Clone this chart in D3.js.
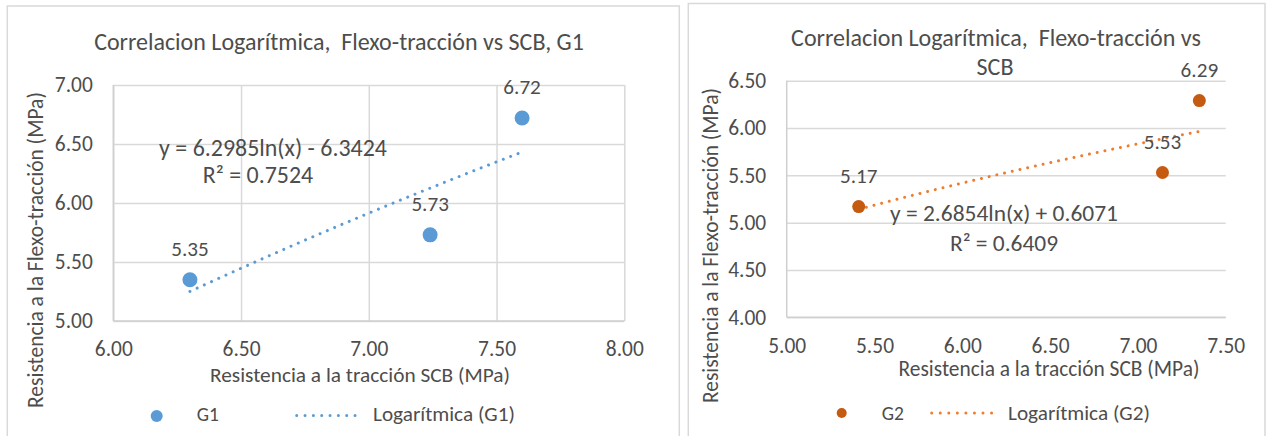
<!DOCTYPE html>
<html>
<head>
<meta charset="utf-8">
<script src="https://cdn.jsdelivr.net/npm/d3@7"></script>
<style>
  html, body { margin: 0; padding: 0; background: #fff; }
  svg { display: block; }
  text { font-family: Carlito, Lato, "Open Sans", sans-serif; fill: #4D4D4D; white-space: pre; }
</style>
</head>
<body>
<svg id="chart" width="1268" height="436"></svg>
<script>
// ---------- DATA ----------
const g1X = [6.30, 7.24, 7.60];
const g1Y = [5.35, 5.73, 6.72];
const g2X = [5.41, 7.14, 7.35];
const g2Y = [5.17, 5.53, 6.29];
const g1TrendCoef = [6.2985, -6.3424];   // y = a ln(x) + b
const g2TrendCoef = [2.6854, 0.6071];
const g1XTicks = [6.0, 6.5, 7.0, 7.5, 8.0];
const g1YTicks = [5.0, 5.5, 6.0, 6.5, 7.0];
const g2XTicks = [5.0, 5.5, 6.0, 6.5, 7.0, 7.5];
const g2YTicks = [4.0, 4.5, 5.0, 5.5, 6.0, 6.5];
const g1Title = ["Correlacion Logarítmica,  Flexo-tracción vs SCB, G1"];
const g2Title = ["Correlacion Logarítmica,  Flexo-tracción vs", "SCB"];
const g1Equation = ["y = 6.2985ln(x) - 6.3424", "R² = 0.7524"];
const g2Equation = ["y = 2.6854ln(x) + 0.6071", "R² = 0.6409"];
const xAxisTitle = "Resistencia a la tracción SCB (MPa)";
const yAxisTitle = "Resistencia a la Flexo-tracción (MPa)";
const g1Legend = ["G1", "Logarítmica (G1)"];
const g2Legend = ["G2", "Logarítmica (G2)"];

const svg = d3.select("#chart");
svg.append("rect").attr("width", 1268).attr("height", 436).attr("fill", "#fff");
const fmt = d3.format(".2f");
const FONT = "Carlito, Lato, 'Open Sans', sans-serif";
const TEXT = "#4D4D4D";

function fit(sel, width) {
  const node = sel.node();
  const fs = parseFloat(sel.attr("font-size"));
  const len = node.getComputedTextLength();
  const nfs = fs * width / len;
  sel.attr("font-size", nfs);
  return nfs;
}
function fitAll(sel, width) {
  let maxLen = 0;
  sel.each(function () { maxLen = Math.max(maxLen, this.getComputedTextLength()); });
  const fs = parseFloat(sel.attr("font-size"));
  sel.attr("font-size", fs * width / maxLen);
}

function drawChart(c) {
  const g = svg.append("g");
  g.append("rect").attr("x", c.frame.x).attr("y", c.frame.y)
    .attr("width", c.frame.w).attr("height", 460)
    .attr("fill", "#fff").attr("stroke", "#D9D9D9").attr("stroke-width", 1.5);

  const x = d3.scaleLinear().domain(d3.extent(c.xTicks)).range([c.plot.l, c.plot.r]);
  const y = d3.scaleLinear().domain(d3.extent(c.yTicks)).range([c.plot.b, c.plot.t]);
  const W = c.plot.r - c.plot.l, H = c.plot.b - c.plot.t;

  const gy = g.append("g").attr("transform", `translate(${c.plot.l},0)`)
    .call(d3.axisLeft(y).tickValues(c.yTicks).tickSize(-W).tickFormat(""));
  gy.select(".domain").remove();
  gy.selectAll("line").attr("stroke", "#D9D9D9").attr("stroke-width", 1.5);

  if (c.vGrid) {
    const gx = g.append("g").attr("transform", `translate(0,${c.plot.b})`)
      .call(d3.axisBottom(x).tickValues(c.xTicks).tickSize(-H).tickFormat(""));
    gx.select(".domain").remove();
    gx.selectAll("line").attr("stroke", "#D9D9D9").attr("stroke-width", 1.5);
  }
  g.append("line").attr("x1", c.plot.l).attr("x2", c.plot.l).attr("y1", c.plot.t).attr("y2", c.plot.b)
    .attr("stroke", "#CFCFCF").attr("stroke-width", 1.5);
  g.append("line").attr("x1", c.plot.l).attr("x2", c.plot.r).attr("y1", c.plot.b).attr("y2", c.plot.b)
    .attr("stroke", "#CFCFCF").attr("stroke-width", 1.5);

  const yl = g.append("g").attr("transform", `translate(${c.plot.l},0)`)
    .call(d3.axisLeft(y).tickValues(c.yTicks).tickSize(0).tickPadding(20.5).tickFormat(fmt));
  yl.select(".domain").remove();
  yl.selectAll("text").attr("font-size", 19).attr("fill", TEXT).style("font-family", FONT);
  fitAll(yl.selectAll("text"), 38);
  const xl = g.append("g").attr("transform", `translate(0,${c.plot.b})`)
    .call(d3.axisBottom(x).tickValues(c.xTicks).tickSize(0).tickPadding(20).tickFormat(fmt));
  xl.select(".domain").remove();
  xl.selectAll("text").attr("font-size", 19).attr("fill", TEXT).style("font-family", FONT);
  fitAll(xl.selectAll("text"), 38);

  let tfs = null;
  c.title.forEach((t, i) => {
    const tt = g.append("text").attr("x", c.titlePos.cx[i]).attr("y", c.titlePos.base[i])
      .attr("text-anchor", "middle").attr("font-size", 22).text(t);
    if (i === 0) tfs = fit(tt, c.titlePos.w); else tt.attr("font-size", tfs);
  });

  const xt = g.append("text").attr("x", c.xTitle.cx).attr("y", c.xTitle.base)
    .attr("text-anchor", "middle").attr("font-size", 19).text(xAxisTitle);
  fit(xt, c.xTitle.w);
  const yt = g.append("text").attr("transform", `translate(${c.yTitle.x},${c.yTitle.cy}) rotate(-90)`)
    .attr("text-anchor", "middle").attr("font-size", 19).text(yAxisTitle);
  fit(yt, c.yTitle.w);

  const [a, b] = c.coef;
  const xs = d3.range(0, 61).map(i => c.xs[0] + (c.xs[c.xs.length - 1] - c.xs[0]) * i / 60);
  g.append("path")
    .attr("d", d3.line().x(d => x(d)).y(d => y(a * Math.log(d) + b))(xs))
    .attr("fill", "none").attr("stroke", c.trendColor).attr("stroke-width", 3)
    .attr("stroke-linecap", "round").attr("stroke-dasharray", "0.01 7.9");

  const pts = c.xs.map((v, i) => ({ x: v, y: c.ys[i] }));
  g.selectAll("circle.pt").data(pts).join("circle").attr("class", "pt")
    .attr("cx", d => x(d.x)).attr("cy", d => y(d.y)).attr("r", c.r).attr("fill", c.color);

  const dl = g.selectAll("text.dl").data(pts).join("text").attr("class", "dl")
    .attr("x", d => x(d.x)).attr("y", d => y(d.y) - 24)
    .attr("text-anchor", "middle").attr("font-size", 19).text(d => fmt(d.y));
  fitAll(dl, 37.5);

  let efs = null;
  c.eq.forEach((t, i) => {
    const et = g.append("text").attr("x", c.eqPos.cx[i]).attr("y", c.eqPos.base[i])
      .attr("text-anchor", "middle").attr("font-size", 19).text(t);
    if (i === 0) efs = fit(et, c.eqPos.w); else et.attr("font-size", efs);
  });

  const L = c.legend;
  g.append("circle").attr("cx", L.mx).attr("cy", L.my).attr("r", L.mr).attr("fill", c.color);
  g.append("text").attr("x", L.t1x).attr("y", L.base).attr("font-size", 19.5).text(c.legendText[0]);
  g.append("line").attr("x1", L.lx[0]).attr("x2", L.lx[1]).attr("y1", L.ly).attr("y2", L.ly)
    .attr("stroke", c.trendColor).attr("stroke-width", 3).attr("stroke-linecap", "round")
    .attr("stroke-dasharray", `0.01 ${(L.lx[1] - L.lx[0]) / 8}`);
  const lt = g.append("text").attr("x", L.t2x).attr("y", L.base).attr("font-size", 19).text(c.legendText[1]);
  fit(lt, L.t2w);
}

drawChart({
  frame: { x: 7.3, y: 6, w: 672 },
  plot: { l: 113.3, r: 624.3, t: 85, b: 321 },
  xTicks: g1XTicks, yTicks: g1YTicks, vGrid: true,
  title: g1Title, titlePos: { cx: [339], base: [50], w: 490 },
  xTitle: { cx: 360, base: 382, w: 300 },
  yTitle: { x: 43, cy: 250, w: 316 },
  xs: g1X, ys: g1Y, coef: g1TrendCoef,
  color: "#5B9BD5", trendColor: "#5B9BD5", r: 7.5,
  eq: g1Equation, eqPos: { cx: [273, 258], base: [156, 183], w: 228 },
  legendText: g1Legend,
  legend: { mx: 156.7, my: 416, mr: 6, t1x: 196.7, lx: [296.7, 363.3], ly: 415.5, t2x: 373, t2w: 142, base: 421 }
});

drawChart({
  frame: { x: 688.3, y: 3.5, w: 576.7 },
  plot: { l: 786.7, r: 1225.7, t: 80.7, b: 317.3 },
  xTicks: g2XTicks, yTicks: g2YTicks, vGrid: false,
  title: g2Title, titlePos: { cx: [996, 995], base: [45.7, 75], w: 410 },
  xTitle: { cx: 1049, base: 376, w: 301 },
  yTitle: { x: 718, cy: 245.5, w: 315 },
  xs: g2X, ys: g2Y, coef: g2TrendCoef,
  color: "#C55A11", trendColor: "#ED7D31", r: 6.5,
  eq: g2Equation, eqPos: { cx: [1004, 1004], base: [221, 251], w: 228 },
  legendText: g2Legend,
  legend: { mx: 841.7, my: 413, mr: 5, t1x: 881.7, lx: [931.7, 1000], ly: 413, t2x: 1008, t2w: 142, base: 420 }
});
</script>
</body>
</html>
